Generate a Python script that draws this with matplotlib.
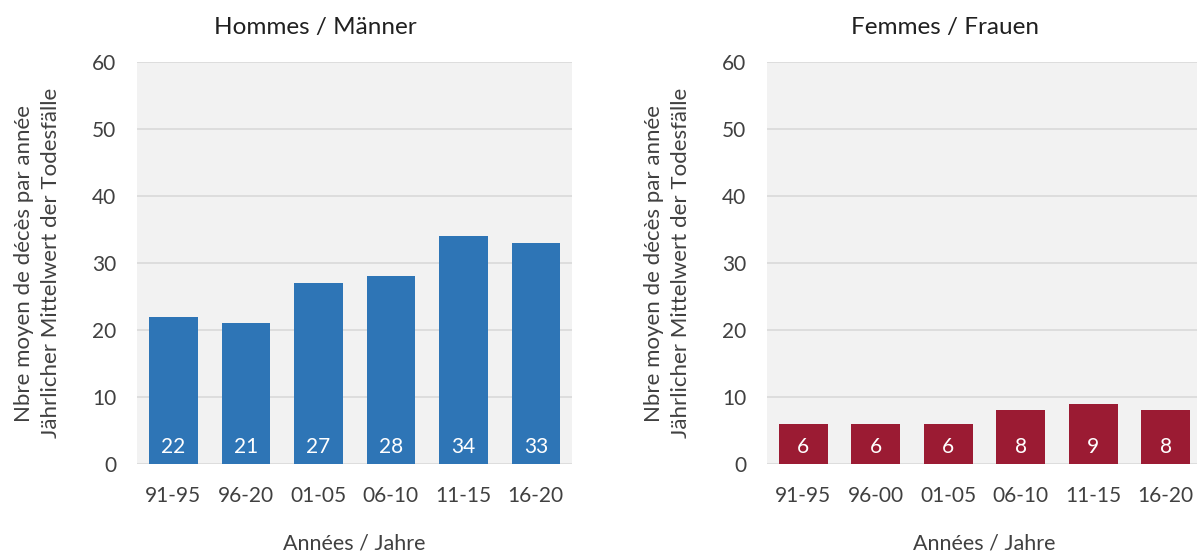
import matplotlib
matplotlib.use("Agg")
import matplotlib.pyplot as plt

plt.rcParams["font.family"] = ["Lato", "DejaVu Sans"]

# data
men_periods = ["91-95", "96-20", "01-05", "06-10", "11-15", "16-20"]
men_deaths = [22, 21, 27, 28, 34, 33]
women_periods = ["91-95", "96-00", "01-05", "06-10", "11-15", "16-20"]
women_deaths = [6, 6, 6, 8, 9, 8]

ylabel = "Nbre moyen de décès par année\nJährlicher Mittelwert der Todesfälle"
xlabel = "Années / Jahre"
text_col = "#404040"


def draw_panel(ax, periods, values, color, title):
    ax.set_facecolor("#f2f2f2")
    x = range(len(periods))
    bars = ax.bar(x, values, width=0.67, color=color, zorder=3)
    for b, v in zip(bars, values):
        ax.text(b.get_x() + b.get_width() / 2, 2.5, str(v), ha="center",
                va="center", color="white", fontsize=15, zorder=4)
    ax.set_xlim(-0.5, len(periods) - 0.5)
    ax.set_ylim(0, 60)
    ax.set_yticks(range(0, 61, 10))
    ax.set_xticks(list(x))
    ax.set_xticklabels(periods)
    ax.grid(axis="y", color="#d9d9d9", linewidth=1.2, zorder=1)
    for s in ax.spines.values():
        s.set_visible(False)
    ax.tick_params(length=0, labelsize=15, colors=text_col)
    ax.tick_params(axis="x", pad=16)
    ax.tick_params(axis="y", pad=15)
    # the titles sit left of the plot centre, like in the original
    ax.set_title(title, fontsize=17.5, color="#202020", pad=20, x=0.41)
    ax.set_xlabel(xlabel, fontsize=15.5, color=text_col, labelpad=20)
    ax.set_ylabel(ylabel, fontsize=16, color=text_col, labelpad=22,
                  linespacing=1.45)


fig = plt.figure(figsize=(11.97, 5.54), dpi=100)
ax1 = fig.add_axes([0.1145, 0.1625, 0.3634, 0.7255])
ax2 = fig.add_axes([0.6408, 0.1625, 0.3634, 0.7255])

draw_panel(ax1, men_periods, men_deaths, "#2e75b6", "Hommes / Männer")
draw_panel(ax2, women_periods, women_deaths, "#9b1b33", "Femmes / Frauen")

fig.savefig("out.png", dpi=100)
